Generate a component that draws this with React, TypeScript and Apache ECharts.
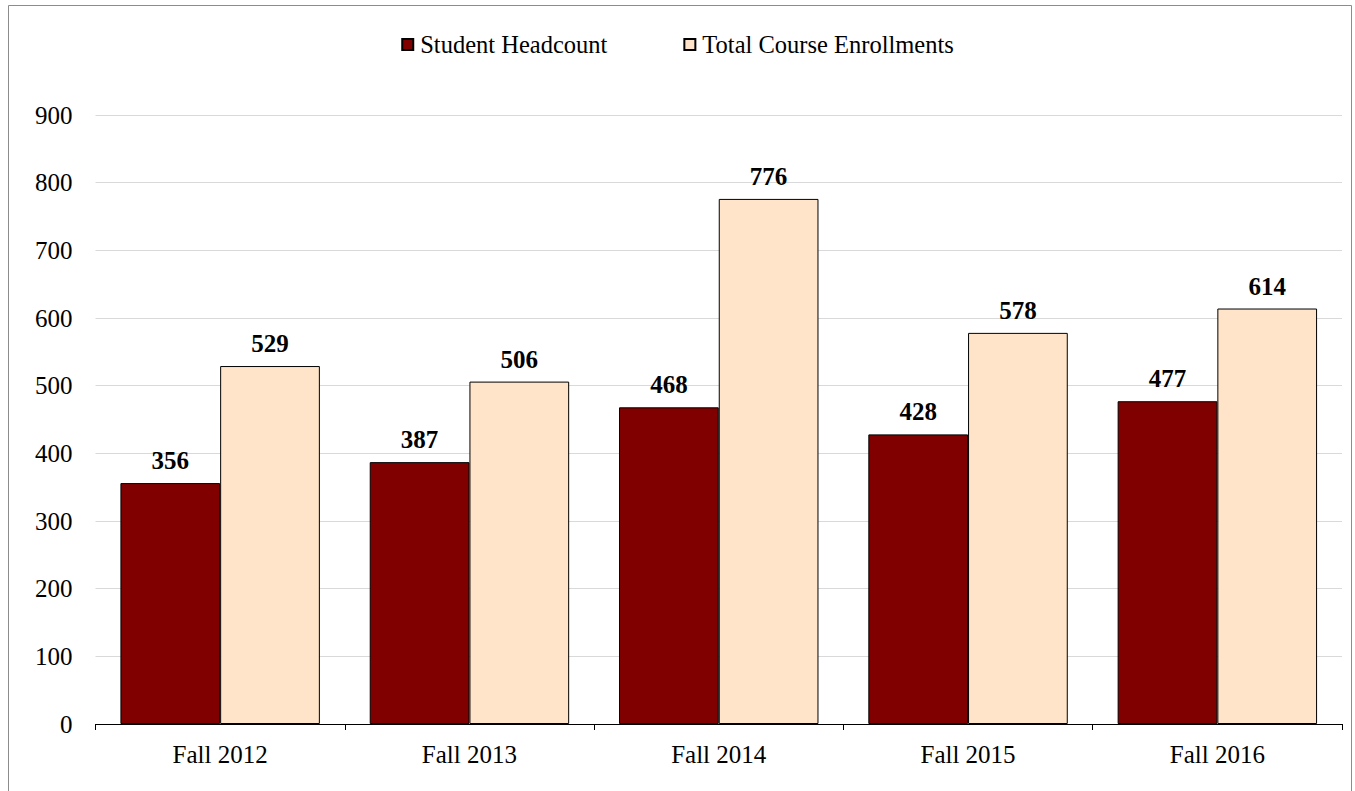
import React, { useEffect, useRef } from "react";
import * as echarts from "echarts";

const categories = ["Fall 2012", "Fall 2013", "Fall 2014", "Fall 2015", "Fall 2016"];
const headcount = [356, 387, 468, 428, 477];
const enrollments = [529, 506, 776, 578, 614];
const seriesNames = ["Student Headcount", "Total Course Enrollments"];

const FONT = "'Liberation Serif', 'Times New Roman', serif";

export default function App() {
  const ref = useRef<HTMLDivElement>(null);
  useEffect(() => {
    if (!ref.current) return;
    const chart = echarts.init(ref.current, undefined, { renderer: "svg" });
    const label = {
      show: true,
      position: "top",
      distance: 10,
      fontFamily: FONT,
      fontSize: 25,
      fontWeight: "bold",
      color: "#000",
    };
    chart.setOption({
      animation: false,
      backgroundColor: "#fff",
      textStyle: { fontFamily: FONT },
      graphic: [
        {
          type: "rect",
          shape: { x: 8.5, y: 5.5, width: 1343, height: 800 },
          style: { fill: "none", stroke: "#8c8c8c", lineWidth: 1 },
          silent: true,
        },
      ],
      legend: {
        top: 27,
        left: "center",
        icon: "rect",
        itemWidth: 11,
        itemHeight: 11,
        itemGap: 76,
        textStyle: { fontFamily: FONT, fontSize: 24.5, color: "#000", padding: [0, 0, 0, 2] },
        data: seriesNames,
      },
      grid: { left: 95.5, right: 13, top: 115, bottom: 67, containLabel: false },
      xAxis: {
        type: "category",
        data: categories,
        axisLine: { lineStyle: { color: "#000", width: 1 } },
        axisTick: { show: true, length: 6, lineStyle: { color: "#000" } },
        axisLabel: { fontFamily: FONT, fontSize: 25, color: "#000", margin: 18 },
      },
      yAxis: {
        type: "value",
        min: 0,
        max: 900,
        interval: 100,
        axisLine: { show: false },
        axisTick: { show: false },
        splitLine: { lineStyle: { color: "#d9d9d9", width: 1 } },
        axisLabel: { fontFamily: FONT, fontSize: 25, color: "#000", margin: 23 },
      },
      series: [
        {
          name: seriesNames[0],
          type: "bar",
          data: headcount,
          barWidth: "40%",
          barGap: "0%",
          barCategoryGap: "20%",
          itemStyle: { color: "#800000", borderColor: "#000", borderWidth: 1 },
          label,
        },
        {
          name: seriesNames[1],
          type: "bar",
          data: enrollments,
          barWidth: "40%",
          barGap: "0%",
          itemStyle: { color: "#FFE4CA", borderColor: "#000", borderWidth: 1 },
          label,
        },
      ],
    });
    return () => chart.dispose();
  }, []);
  return (
    <div
      ref={ref}
      style={{ position: "fixed", left: 0, top: 0, width: 1355, height: 791 }}
    />
  );
}
